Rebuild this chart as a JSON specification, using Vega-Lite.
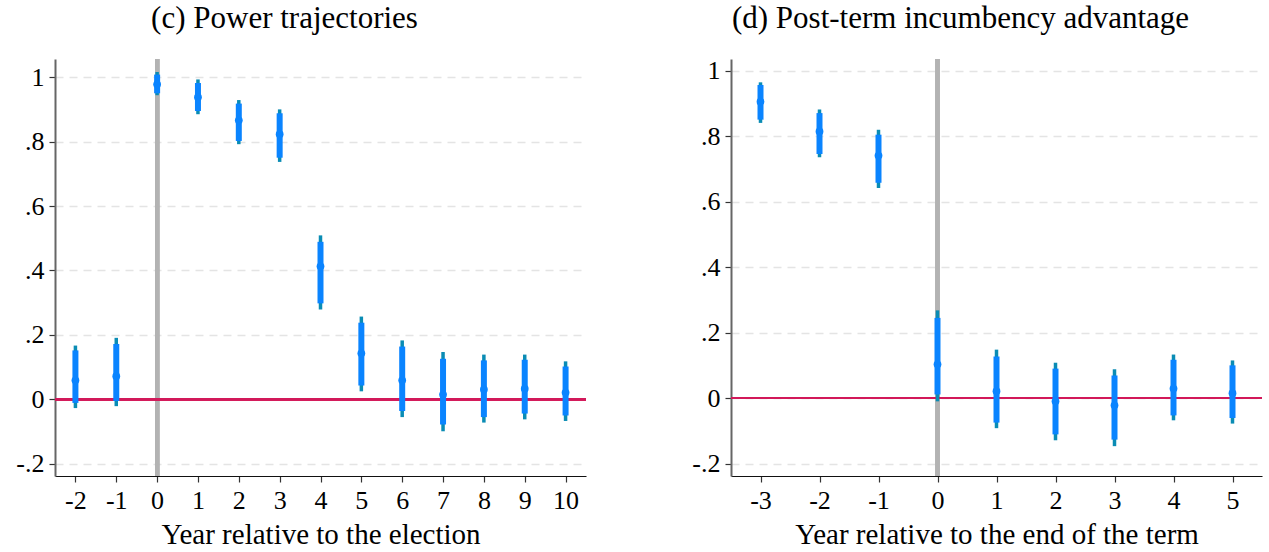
{
  "$schema": "https://vega.github.io/schema/vega-lite/v6.json",
  "background": "white",
  "padding": {"left": 15, "right": 3, "top": 3, "bottom": 0},
  "datasets": {
    "power": [
      {"year": -2, "est": 0.059, "lo95": -0.027, "hi95": 0.167, "lo90": -0.011, "hi90": 0.152},
      {"year": -1, "est": 0.072, "lo95": -0.021, "hi95": 0.191, "lo90": -0.005, "hi90": 0.172},
      {"year": 0, "est": 0.978, "lo95": 0.944, "hi95": 1.016, "lo90": 0.950, "hi90": 1.008},
      {"year": 1, "est": 0.938, "lo95": 0.885, "hi95": 0.993, "lo90": 0.895, "hi90": 0.982},
      {"year": 2, "est": 0.866, "lo95": 0.792, "hi95": 0.929, "lo90": 0.802, "hi90": 0.918},
      {"year": 3, "est": 0.823, "lo95": 0.737, "hi95": 0.900, "lo90": 0.750, "hi90": 0.888},
      {"year": 4, "est": 0.413, "lo95": 0.279, "hi95": 0.509, "lo90": 0.298, "hi90": 0.489},
      {"year": 5, "est": 0.143, "lo95": 0.025, "hi95": 0.257, "lo90": 0.043, "hi90": 0.238},
      {"year": 6, "est": 0.059, "lo95": -0.055, "hi95": 0.183, "lo90": -0.036, "hi90": 0.164},
      {"year": 7, "est": 0.015, "lo95": -0.099, "hi95": 0.147, "lo90": -0.078, "hi90": 0.126},
      {"year": 8, "est": 0.031, "lo95": -0.072, "hi95": 0.139, "lo90": -0.055, "hi90": 0.121},
      {"year": 9, "est": 0.033, "lo95": -0.062, "hi95": 0.139, "lo90": -0.044, "hi90": 0.123},
      {"year": 10, "est": 0.021, "lo95": -0.067, "hi95": 0.118, "lo90": -0.050, "hi90": 0.102}
    ],
    "postterm": [
      {"year": -3, "est": 0.906, "lo95": 0.841, "hi95": 0.965, "lo90": 0.851, "hi90": 0.957},
      {"year": -2, "est": 0.815, "lo95": 0.736, "hi95": 0.882, "lo90": 0.746, "hi90": 0.871},
      {"year": -1, "est": 0.741, "lo95": 0.642, "hi95": 0.820, "lo90": 0.658, "hi90": 0.805},
      {"year": 0, "est": 0.103, "lo95": -0.010, "hi95": 0.268, "lo90": 0.011, "hi90": 0.245},
      {"year": 1, "est": 0.021, "lo95": -0.092, "hi95": 0.148, "lo90": -0.075, "hi90": 0.127},
      {"year": 2, "est": -0.010, "lo95": -0.129, "hi95": 0.108, "lo90": -0.111, "hi90": 0.090},
      {"year": 3, "est": -0.022, "lo95": -0.147, "hi95": 0.088, "lo90": -0.127, "hi90": 0.069},
      {"year": 4, "est": 0.029, "lo95": -0.068, "hi95": 0.133, "lo90": -0.053, "hi90": 0.117},
      {"year": 5, "est": 0.015, "lo95": -0.078, "hi95": 0.115, "lo90": -0.061, "hi90": 0.100}
    ]
  },
  "config": {
    "view": {"stroke": null},
    "axis": {
      "labelFont": "Liberation Serif",
      "titleFont": "Liberation Serif",
      "labelFontSize": 26,
      "titleFontSize": 29,
      "titleFontWeight": "normal",
      "labelColor": "#000000",
      "titleColor": "#000000",
      "tickColor": "#333333",
      "tickSize": 6,
      "tickWidth": 1.2,
      "labelPadding": 5
    },
    "axisX": {"domainColor": "#111111", "domainWidth": 1.2, "grid": false, "titlePadding": 7},
    "axisY": {"domainColor": "#666666", "domainWidth": 2, "grid": true, "gridColor": "#e4e4e4", "gridDash": [8, 6], "gridWidth": 1.5},
    "title": {"font": "Liberation Serif", "fontSize": 31, "fontWeight": "normal", "color": "#000000", "anchor": "middle", "offset": 22}
  },
  "spacing": 104,
  "hconcat": [
    {
      "width": 531,
      "height": 417,
      "title": {"text": "(c) Power trajectories", "dx": -36},
      "data": {"name": "power"},
      "layer": [
        {
          "mark": {"type": "rule", "color": "#b3b3b3", "strokeWidth": 4},
          "encoding": {"x": {"datum": 0, "type": "quantitative"}}
        },
        {
          "mark": {"type": "rule", "color": "#d2195a", "strokeWidth": 1.6},
          "encoding": {"y": {"datum": 0, "type": "quantitative"}}
        },
        {
          "mark": {"type": "rule", "color": "#0a8cb4", "strokeWidth": 3.5},
          "encoding": {
            "x": {
              "field": "year", "type": "quantitative",
              "scale": {"domain": [-2.5, 10.5], "nice": false, "zero": false},
              "axis": {"values": [-2, -1, 0, 1, 2, 3, 4, 5, 6, 7, 8, 9, 10], "labelExpr": "toString(datum.value)", "title": "Year relative to the election"}
            },
            "y": {
              "field": "lo95", "type": "quantitative",
              "scale": {"domain": [-0.2378, 1.0564], "nice": false, "zero": false},
              "axis": {"values": [-0.2, 0, 0.2, 0.4, 0.6, 0.8, 1], "grid": true, "labelExpr": "replace(toString(datum.value), '0.', '.')", "title": null}
            },
            "y2": {"field": "hi95"}
          }
        },
        {
          "mark": {"type": "rule", "color": "#0a84ff", "strokeWidth": 6},
          "encoding": {
            "x": {"field": "year", "type": "quantitative"},
            "y": {"field": "lo90", "type": "quantitative"},
            "y2": {"field": "hi90"}
          }
        },
        {
          "mark": {"type": "point", "filled": true, "opacity": 1, "color": "#0a84ff", "size": 60},
          "encoding": {
            "x": {"field": "year", "type": "quantitative"},
            "y": {"field": "est", "type": "quantitative"}
          }
        }
      ]
    },
    {
      "width": 531,
      "height": 417,
      "title": {"text": "(d) Post-term incumbency advantage", "dx": -36},
      "data": {"name": "postterm"},
      "layer": [
        {
          "mark": {"type": "rule", "color": "#b3b3b3", "strokeWidth": 4},
          "encoding": {"x": {"datum": 0, "type": "quantitative"}}
        },
        {
          "mark": {"type": "rule", "color": "#d2195a", "strokeWidth": 1.6},
          "encoding": {"y": {"datum": 0, "type": "quantitative"}}
        },
        {
          "mark": {"type": "rule", "color": "#0a8cb4", "strokeWidth": 3.5},
          "encoding": {
            "x": {
              "field": "year", "type": "quantitative",
              "scale": {"domain": [-3.5, 5.5], "nice": false, "zero": false},
              "axis": {"values": [-3, -2, -1, 0, 1, 2, 3, 4, 5], "labelExpr": "toString(datum.value)", "title": "Year relative to the end of the term"}
            },
            "y": {
              "field": "lo95", "type": "quantitative",
              "scale": {"domain": [-0.2382, 1.0363], "nice": false, "zero": false},
              "axis": {"values": [-0.2, 0, 0.2, 0.4, 0.6, 0.8, 1], "grid": true, "labelExpr": "replace(toString(datum.value), '0.', '.')", "title": null}
            },
            "y2": {"field": "hi95"}
          }
        },
        {
          "mark": {"type": "rule", "color": "#0a84ff", "strokeWidth": 6},
          "encoding": {
            "x": {"field": "year", "type": "quantitative"},
            "y": {"field": "lo90", "type": "quantitative"},
            "y2": {"field": "hi90"}
          }
        },
        {
          "mark": {"type": "point", "filled": true, "opacity": 1, "color": "#0a84ff", "size": 60},
          "encoding": {
            "x": {"field": "year", "type": "quantitative"},
            "y": {"field": "est", "type": "quantitative"}
          }
        }
      ]
    }
  ]
}
